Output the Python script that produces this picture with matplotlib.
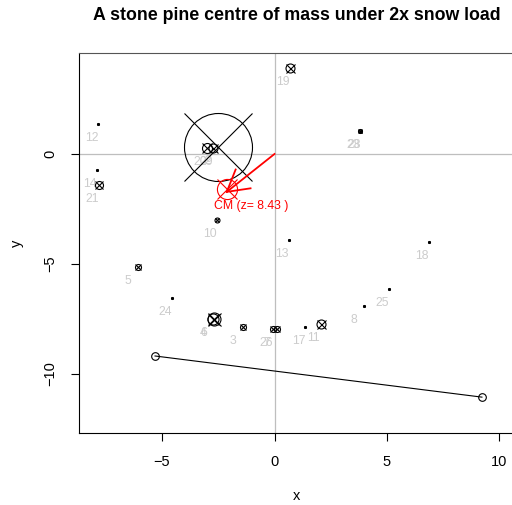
import numpy as np
import matplotlib
matplotlib.use("Agg")
import matplotlib.pyplot as plt

plt.rcParams["font.family"] = ["Liberation Sans", "DejaVu Sans"]

# branch points (label, x, y, symbol diameter in px ~ mass)
labels = ["2", "20", "29", "19", "23", "28", "12", "14", "21", "10", "13", "18",
          "5", "24", "6", "4", "3", "26", "7", "17", "11", "8", "25"]
xs = [-2.51, -3.01, -2.75, 0.69, 3.80, 3.82, -7.84, -7.89, -7.80, -2.56, 0.64, 6.87,
      -6.07, -4.56, -2.70, -2.72, -1.40, -0.05, 0.10, 1.36, 2.05, 3.98, 5.09]
ys = [0.32, 0.26, 0.26, 3.91, 1.05, 1.05, 1.36, -0.73, -1.41, -3.00, -3.91, -4.00,
      -5.14, -6.55, -7.49, -7.49, -7.86, -7.95, -7.95, -7.86, -7.71, -6.91, -6.14]
sizes = [68, 10, 9, 9, 4, 3, 2, 2, 8, 5, 2, 2,
         6, 2, 13, 11, 6, 6, 6, 2, 9, 2, 2]

# stem line
stem_x = [-5.31, 9.22]
stem_y = [-9.18, -11.05]

# centre of mass
cm_x, cm_y, cm_z = -2.12, -1.72, 8.43

fig = plt.figure(figsize=(5.12, 5.05), dpi=100)
ax = fig.add_axes([79 / 512, 72 / 505, 436 / 512, 380 / 505])
ax.set_xlim(-8.69, 10.69)
ax.set_ylim(-12.68, 4.59)

ax.axhline(0, color="#bebebe", lw=0.9, zorder=1)
ax.axvline(0, color="#bebebe", lw=0.9, zorder=1)

for lab, x, y, s in zip(labels, xs, ys, sizes):
    ms = s * 0.72
    ax.plot(x, y, marker="o", ms=ms, mfc="none", mec="black", mew=0.8, zorder=3)
    ax.plot(x, y, marker="x", ms=ms, mec="black", mew=0.8, zorder=3)
    ax.annotate(lab, (x, y), xytext=(-9.7, -10), textcoords="offset points",
                ha="left", va="center", color="#cccccc", fontsize=8.8, zorder=2)

ax.plot(stem_x, stem_y, color="black", lw=0.8, marker="o", ms=5.5,
        mfc="none", mec="black", mew=0.8, zorder=3)

# centre of mass arrow (R style open head)
ax.plot([0, cm_x], [0, cm_y], color="red", lw=1.3, zorder=4)
fig.canvas.draw()
p0 = ax.transData.transform((0, 0))
p1 = ax.transData.transform((cm_x, cm_y))
ang = np.arctan2(p0[1] - p1[1], p0[0] - p1[0])
hl = 24
for da in (np.radians(30), -np.radians(30)):
    q = p1 + hl * np.array([np.cos(ang + da), np.sin(ang + da)])
    qd = ax.transData.inverted().transform(q)
    ax.plot([cm_x, qd[0]], [cm_y, qd[1]], color="red", lw=1.3, zorder=4)

ax.plot(cm_x, cm_y + 0.15, marker="o", ms=14.5, mfc="none", mec="red", mew=0.8, zorder=4)
ax.plot(cm_x, cm_y + 0.15, marker="x", ms=14.5, mec="red", mew=0.8, zorder=4)
ax.annotate("CM (z= %.2f )" % cm_z, (cm_x, cm_y), xytext=(-9.5, -10),
            textcoords="offset points", ha="left", va="center", color="red",
            fontsize=8.8, zorder=4)

ax.set_xticks([-5, 0, 5, 10])
ax.set_yticks([-10, -5, 0])
ax.set_xticklabels(["\u22125", "0", "5", "10"])
ax.set_yticklabels(["\u221210", "\u22125", "0"], rotation=90, va="center")
ax.tick_params(length=5.5, width=0.8, labelsize=10.5, pad=10)
for sp in ax.spines.values():
    sp.set_linewidth(0.8)
ax.spines["top"].set_color("#555555")
ax.spines["right"].set_visible(False)

ax.set_xlabel("x", fontsize=10.5, labelpad=15)
ax.set_ylabel("y", fontsize=10.5, labelpad=14)
fig.text(297 / 512, 1 - 15 / 505, "A stone pine centre of mass under 2x snow load",
         ha="center", va="center", fontsize=12.8, fontweight="bold")

fig.savefig("out.png", dpi=100)
